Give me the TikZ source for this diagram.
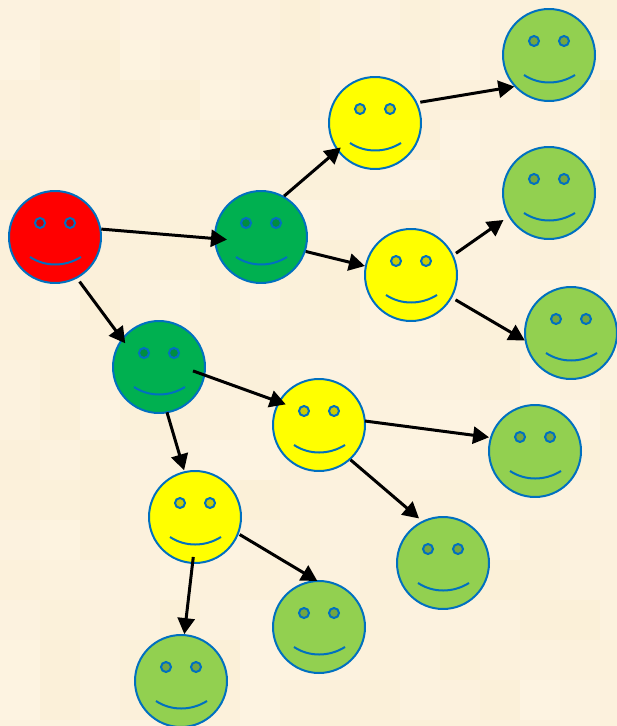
\documentclass[tikz,border=0pt]{standalone}
\usetikzlibrary{arrows.meta,calc}
\definecolor{paper}{RGB}{252,241,220}
\definecolor{paperlight}{RGB}{253,243,226}
\definecolor{paperdark}{RGB}{251,240,216}
\definecolor{faceline}{RGB}{0,112,192}
\definecolor{faceRed}{RGB}{255,0,0}
\definecolor{faceGreen}{RGB}{0,176,80}
\definecolor{faceYellow}{RGB}{255,255,0}
\definecolor{faceLime}{RGB}{146,208,80}
\tikzset{
	face/.style={circle,draw=faceline,line width=0.04cm,minimum size=1.84cm,inner sep=0pt,outer sep=0pt},
	facemark/.style={draw=faceline,line width=0.04cm},
	arw/.style={-{Triangle[length=0.32cm,width=0.34cm]},line width=0.06cm,black},
}
\begin{document}
	\begin{tikzpicture}[x=0.02cm,y=-0.02cm]
		\useasboundingbox (0,0) rectangle (616,726);
		% Background
		\fill[paper] (0,0) rectangle (616,726);
		\pgfmathsetseed{11}
		\foreach \bx in {0,40,...,600}
			\foreach \by in {0,40,...,720}
			{
				\pgfmathsetmacro{\mixval}{int(100*rnd)}
				\fill[paperlight!\mixval!paperdark] (\bx,\by) rectangle ++(40.5,40.5);
			}
		% Faces
		\foreach \name/\px/\py/\col in {
			red/55/237/faceRed,
			gA/261/237/faceGreen, gB/159/367/faceGreen,
			yA/375/123/faceYellow, yB/411/275/faceYellow, yC/319/425/faceYellow, yD/195/517/faceYellow,
			lA/549/55/faceLime, lB/549/193/faceLime, lC/571/333/faceLime, lD/535/451/faceLime,
			lE/443/563/faceLime, lF/319/627/faceLime, lG/181/681/faceLime}
		{
			\node[face,fill=\col] (\name) at (\px,\py) {};
			\draw[facemark,fill=\col!80!black] ($(\name)+(-15,-14)$) circle (5);
			\draw[facemark,fill=\col!80!black] ($(\name)+(15,-14)$) circle (5);
			\draw[facemark] ($(\name)+(-25,20)$) .. controls ($(\name)+(-10,30)$) and ($(\name)+(10,30)$) .. ($(\name)+(26,20)$);
		}
		% Arrows: from, angle, gap, to, angle, gap
		\foreach \from/\sa/\sg/\to/\ta/\tg in {
			red/10/1/gA/182/-12, red/-62/5/gB/143/-5,
			gA/61/1/yA/216/-4, gA/-18/1/yB/169/1,
			yA/26/4/lA/223/1, yB/25/4/lB/210/7, yB/-29/5/lC/190/1,
			gB/-10/-12/yC/150/-7, gB/-80/0/yD/103/2,
			yC/5/0/lD/163/2, yC/-48/1/lE/116/5,
			yD/-21/2/lF/92/0, yD/-93/-6/lG/86/1}
		{
			\draw[arw,shorten <=\sg*0.02cm,shorten >=\tg*0.02cm] (\from.\sa) -- (\to.\ta);
		}
	\end{tikzpicture}
\end{document}
